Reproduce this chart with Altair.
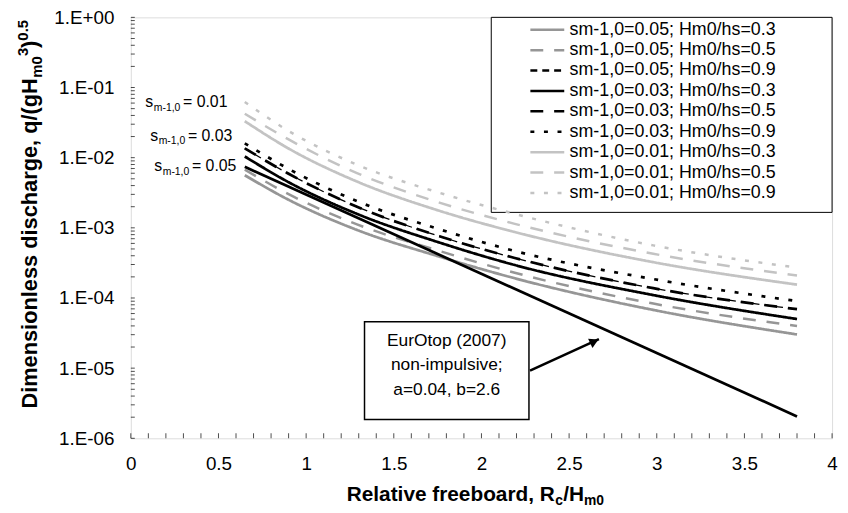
import altair as alt
import pandas as pd

# ---------------- data ----------------
X_VALUES = [0.65, 0.9, 1.29, 1.76, 2.19, 2.98, 3.8]

SERIES_NAMES = [
    "sm-1,0=0.05; Hm0/hs=0.3",
    "sm-1,0=0.05; Hm0/hs=0.5",
    "sm-1,0=0.05; Hm0/hs=0.9",
    "sm-1,0=0.03; Hm0/hs=0.3",
    "sm-1,0=0.03; Hm0/hs=0.5",
    "sm-1,0=0.03; Hm0/hs=0.9",
    "sm-1,0=0.01; Hm0/hs=0.3",
    "sm-1,0=0.01; Hm0/hs=0.5",
    "sm-1,0=0.01; Hm0/hs=0.9",
]

Q_005_03 = [0.00562, 0.00251, 0.000933, 0.000389, 0.000191, 0.0000676, 0.0000302]
Q_005_05 = [0.00676, 0.00302, 0.00112, 0.000468, 0.000229, 0.0000832, 0.0000398]
Q_005_09 = [0.0136, 0.00589, 0.00200, 0.000759, 0.000372, 0.000138, 0.0000692]
Q_003_03 = [0.0104, 0.00447, 0.00158, 0.000617, 0.000295, 0.000110, 0.0000501]
Q_003_05 = [0.0136, 0.00589, 0.00200, 0.000759, 0.000372, 0.000138, 0.0000692]
Q_003_09 = [0.0160, 0.00692, 0.00240, 0.000955, 0.000468, 0.000186, 0.0000902]
Q_001_03 = [0.0331, 0.0135, 0.00457, 0.00175, 0.000871, 0.000324, 0.000155]
Q_001_05 = [0.0423, 0.0182, 0.00603, 0.00229, 0.00114, 0.000427, 0.000209]
Q_001_09 = [0.0622, 0.0240, 0.00794, 0.00316, 0.00158, 0.000562, 0.000271]

SERIES_VALUES = [Q_005_03, Q_005_05, Q_005_09, Q_003_03, Q_003_05, Q_003_09,
                 Q_001_03, Q_001_05, Q_001_09]

EUROTOP_X = [0.65, 3.8]
EUROTOP_Q = [0.0074, 0.00000205]

X_LABEL_VALUES = [0, 0.5, 1, 1.5, 2, 2.5, 3, 3.5, 4]
Y_LABEL_VALUES = [1e-6, 1e-5, 1e-4, 1e-3, 1e-2, 1e-1, 1]
X_TICK_VALUES = [round(i * 0.1, 1) for i in range(41)]
Y_TICK_VALUES = [m * d for d in [1e-6, 1e-5, 1e-4, 1e-3, 1e-2, 1e-1] for m in range(1, 10)] + [1]

SLOPE_LABELS = ["= 0.01", "= 0.03", "= 0.05"]
SLOPE_LABEL_X = [0.083, 0.111, 0.134]
SLOPE_LABEL_Q = [0.0527, 0.01755, 0.00644]

NOTE_LINES = ["EurOtop (2007)", "non-impulsive;", "a=0.04, b=2.6"]
NOTE_X = 1.802
NOTE_Q = [2.47e-5, 1.10e-5, 4.91e-6]
NOTE_BOX = {"x": 1.333, "x2": 2.271, "q": 4.57e-5, "q2": 1.86e-6}
ARROW = {"x": 2.277, "q": 9.2e-6, "x2": 2.67, "q2": 2.6e-5}
ARROW_HEAD = {"x": 2.644, "q": 2.4e-5}
LEGEND_BOX = {"x": 2.056, "x2": 4.0, "q": 1.66e-3, "q2": 1.0}

# ---------------- styles / layout ----------------
GRAY, BLACK, LIGHT = "#969696", "#000000", "#c3c3c3"
COLORS = [GRAY, GRAY, BLACK, BLACK, BLACK, BLACK, LIGHT, LIGHT, LIGHT]
SOLID, DASH, DOT, THIN = [1, 0], [13, 11], [4, 9.7], [7, 5]
DASHES = [SOLID, DASH, THIN, SOLID, DASH, DOT, SOLID, DASH, DOT]
WIDTHS = [2.75, 2.5, 1.3, 2.75, 2.75, 2.75, 2.75, 2.5, 2.5]
FONT = "Liberation Sans"
W, H = 708, 425

# ---------------- tables ----------------
rows = []
for name, vals, w in zip(SERIES_NAMES, SERIES_VALUES, WIDTHS):
    for x, q in zip(X_VALUES, vals):
        rows.append({"x": x, "q": q, "series": name, "w": w})
curves = pd.DataFrame(rows)
eurotop = pd.DataFrame({"x": EUROTOP_X, "q": EUROTOP_Q})

XS = alt.Scale(domain=[0, 4], nice=False, zero=False)
YS = alt.Scale(type="log", domain=[1e-6, 1], nice=False)

X_AXIS = alt.Axis(values=X_LABEL_VALUES, ticks=False, domain=False, grid=False, title=None,
                  format="~g", labelFontSize=19, labelFont=FONT, labelColor="black",
                  labelPadding=16, labelFlush=False, labelOverlap=False)
Y_AXIS = alt.Axis(values=Y_LABEL_VALUES, ticks=False, domain=False, grid=False, title=None,
                  labelFontSize=19, labelFont=FONT, labelColor="black", labelPadding=17,
                  labelOverlap=False,
                  labelExpr="datum.value >= 1 ? '1.E+00' : '1.E-0' + format(round(-log(datum.value)/LN10), 'd')")


def X(field="x:Q"):
    return alt.X(field, scale=XS, axis=X_AXIS)


def Y(field="q:Q"):
    return alt.Y(field, scale=YS, axis=Y_AXIS)


legend = alt.Legend(title=None, orient="none", legendX=410, legendY=2,
                    symbolType="M-1.9,0L1.9,0", symbolSize=324, symbolStrokeWidth=2.5,
                    labelFontSize=18, labelFont=FONT, labelColor="black", labelOffset=12,
                    rowPadding=0.6, padding=0, labelLimit=400)

legend_box = alt.Chart(pd.DataFrame([LEGEND_BOX])).mark_rect(
    fill="white", stroke="black", strokeWidth=1).encode(
    x=X(), x2="x2:Q", y=Y(), y2="q2:Q")

lines = alt.Chart(curves).mark_line(interpolate="monotone").encode(
    x=X(), y=Y(),
    color=alt.Color("series:N", scale=alt.Scale(domain=SERIES_NAMES, range=COLORS), legend=legend),
    strokeDash=alt.StrokeDash("series:N", scale=alt.Scale(domain=SERIES_NAMES, range=DASHES)),
    strokeWidth=alt.StrokeWidth("w:Q", scale=None),
    order=alt.Order("x:Q"),
)

eu_line = alt.Chart(eurotop).mark_line(color="black", strokeWidth=2.75).encode(x=X(), y=Y())

note_box = alt.Chart(pd.DataFrame([NOTE_BOX])).mark_rect(
    fill="white", stroke="black", strokeWidth=1.5).encode(
    x=X(), x2="x2:Q", y=Y(), y2="q2:Q")

note_text = alt.Chart(pd.DataFrame({"x": [NOTE_X] * 3, "q": NOTE_Q, "t": NOTE_LINES})).mark_text(
    font=FONT, fontSize=17.5, color="black", align="center", baseline="middle").encode(
    x=X(), y=Y(), text="t:N")

arrow = alt.Chart(pd.DataFrame([ARROW])).mark_rule(color="black", strokeWidth=2.5).encode(
    x=X(), x2="x2:Q", y=Y(), y2="q2:Q")

arrow_head = alt.Chart(pd.DataFrame([ARROW_HEAD])).mark_point(
    shape="triangle-right", filled=True, color="black", size=110, angle=335, opacity=1).encode(
    x=X(), y=Y())

slope_df = pd.DataFrame({"x": SLOPE_LABEL_X, "q": SLOPE_LABEL_Q, "t": SLOPE_LABELS})
s_main = alt.Chart(slope_df).mark_text(font=FONT, fontSize=16, color="black", align="left",
                                       baseline="alphabetic").encode(
    x=X(), y=Y(), text=alt.value("s"))
s_sub = alt.Chart(slope_df).mark_text(font=FONT, fontSize=10.5, color="black", align="left",
                                      baseline="alphabetic", dx=8.5, dy=4).encode(
    x=X(), y=Y(), text=alt.value("m-1,0"))
s_eq = alt.Chart(slope_df).mark_text(font=FONT, fontSize=16, color="black", align="left",
                                     baseline="alphabetic", dx=38).encode(
    x=X(), y=Y(), text="t:N")

x_ticks = alt.Chart(pd.DataFrame({"x": X_TICK_VALUES})).mark_tick(
    orient="vertical", size=5, thickness=1, color="black").encode(
    x=X(), y=alt.value(H - 2.5))
y_ticks = alt.Chart(pd.DataFrame({"q": Y_TICK_VALUES})).mark_tick(
    orient="horizontal", size=4, thickness=1, color="black").encode(
    y=Y(), x=alt.value(2))

# axis titles with sub/superscripts built from text pieces
XT = [("Relative freeboard, R", 21, 0, 0), ("c", 14, 210.5, 4), ("/H", 21, 218.5, 0), ("m0", 14, 239.5, 4)]
YT = [("Dimensionless discharge, q/(gH", 22, 0, 0), ("m0", 15, 334, 5), ("3", 15, 356, -9),
      (")", 22, 364, 0), ("0.5", 15, 371.5, -9)]

title_layers = []
for txt, fs, dx, dy in XT:
    title_layers.append(alt.Chart(pd.DataFrame({"t": [txt]})).mark_text(
        font=FONT, fontWeight="bold", fontSize=fs, color="black", align="left",
        baseline="alphabetic", dx=dx, dy=dy).encode(
        x=alt.value(218), y=alt.value(H + 63), text="t:N"))
for txt, fs, dx, dy in YT:
    title_layers.append(alt.Chart(pd.DataFrame({"t": [txt]})).mark_text(
        font=FONT, fontWeight="bold", fontSize=fs, color="black", align="left",
        baseline="alphabetic", angle=270, dx=dx, dy=dy).encode(
        x=alt.value(-95), y=alt.value(395), text="t:N"))

chart = alt.layer(
    legend_box, lines, eu_line, note_box, note_text, arrow, arrow_head,
    s_main, s_sub, s_eq, x_ticks, y_ticks, *title_layers
).properties(
    width=W, height=H,
    autosize=alt.AutoSizeParams(type="none"),
    padding={"left": 124, "top": 7, "right": 8, "bottom": 76},
).configure_view(stroke="black", strokeWidth=1).configure(background="white")

chart.save("out.html", embed_options={"renderer": "svg", "actions": False})
